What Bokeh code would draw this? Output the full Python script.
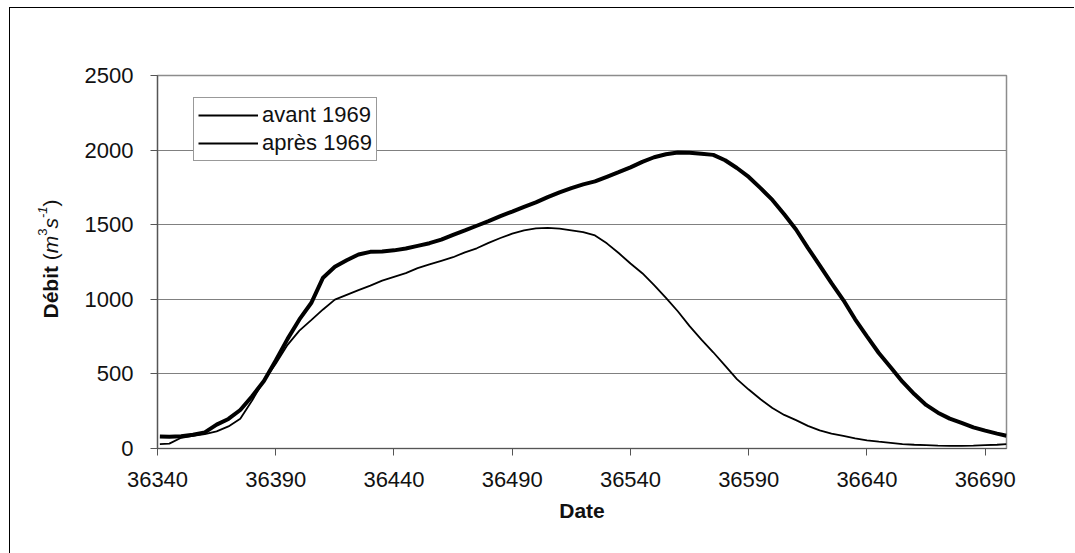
import math
from bokeh.plotting import figure
from bokeh.layouts import row
from bokeh.models import Range1d, Legend, LegendItem, FixedTicker
from bokeh.core.properties import value
from bokeh.embed import file_html
from bokeh.resources import INLINE

# ---- data ----
dates = [36341, 36345, 36350, 36355, 36360, 36365, 36370, 36375, 36380, 36385,
         36390, 36395, 36400, 36405, 36410, 36415, 36420, 36425, 36430, 36435,
         36440, 36445, 36450, 36455, 36460, 36465, 36470, 36475, 36480, 36485,
         36490, 36495, 36500, 36505, 36510, 36515, 36520, 36525, 36530, 36535,
         36540, 36545, 36550, 36555, 36560, 36565, 36570, 36575, 36580, 36585,
         36590, 36595, 36600, 36605, 36610, 36615, 36620, 36625, 36630, 36635,
         36640, 36645, 36650, 36655, 36660, 36665, 36670, 36675, 36680, 36685,
         36690, 36695, 36699]

avant_1969 = [80, 78, 82, 92, 108, 160, 198, 258, 350, 452,
              590, 735, 865, 975, 1145, 1218, 1262, 1300, 1318, 1320,
              1328, 1340, 1358, 1376, 1400, 1432, 1462, 1493, 1524, 1557,
              1588, 1620, 1650, 1685, 1717, 1745, 1770, 1790, 1821, 1852,
              1884, 1921, 1952, 1972, 1984, 1982, 1976, 1968, 1932, 1880,
              1820, 1745, 1666, 1570, 1468, 1345, 1228, 1108, 995, 866,
              752, 640, 545, 448, 365, 292, 240, 200, 172, 142,
              120, 100, 85]

apres_1969 = [30, 33, 72, 85, 96, 115, 148, 200, 322, 455,
              568, 695, 790, 860, 932, 998, 1030, 1062, 1092, 1125,
              1150, 1175, 1209, 1234, 1258, 1282, 1315, 1342, 1378, 1411,
              1440, 1462, 1475, 1479, 1474, 1462, 1450, 1428, 1375, 1310,
              1240, 1175, 1095, 1010, 920, 820, 730, 645, 555, 465,
              395, 330, 272, 225, 190, 152, 122, 100, 85, 68,
              55, 46, 38, 30, 25, 22, 19, 18, 18, 19,
              22, 25, 29]

x_ticks = [36340, 36390, 36440, 36490, 36540, 36590, 36640, 36690]
y_ticks = [0, 500, 1000, 1500, 2000, 2500]
series_names = ["avant 1969", "après 1969"]

# y-axis title pieces: Débit (m3s-1)
title_texts = ["Débit", "(", "m", "3", "s", "-1", ")"]

FONT = "Liberation Sans"
TXT = "#111111"
H = 545
FRAME_H = 373

# ---------- narrow panel holding the rich y-axis title ----------
LW = 65
pl = figure(width=LW, height=H, output_backend="svg", toolbar_location=None,
            x_axis_type=None, y_axis_type=None,
            x_range=Range1d(0, LW), y_range=Range1d(0, FRAME_H),
            min_border=0, min_border_left=0, min_border_right=0)
pl.grid.visible = False
pl.outline_line_color = None
pl.background_fill_color = "white"
pl.border_fill_color = "white"

styles = ["bold", "normal", "italic", "normal", "italic", "italic", "normal"]
sizes = ["21px", "21px", "21px", "13px", "21px", "13px", "21px"]
raise_px = [0, 0, 0, 8, 0, 8, 0]
adv = [58.3, 7.0, 17.5, 7.2, 10.5, 11.6, 7.0]
base_x = 39.5
ypos = 130.0
for t, st, sz, rp, a in zip(title_texts, styles, sizes, raise_px, adv):
    pl.text(x=[base_x - rp], y=[ypos], text=[t], angle=math.pi / 2,
            text_font=value(FONT), text_font_size=sz, text_font_style=st,
            text_color=TXT, text_align="left", text_baseline="alphabetic")
    ypos += a

# ---------- main chart ----------
p = figure(width=999, height=H, output_backend="svg", toolbar_location=None,
           x_range=Range1d(36340, 36699), y_range=Range1d(0, 2500),
           min_border_left=82, min_border_right=68, min_border_top=67,
           min_border_bottom=105)
p.background_fill_color = "white"
p.border_fill_color = "white"
p.outline_line_color = "#8c8c8c"
p.outline_line_width = 1.5

r1 = p.line(dates, avant_1969, line_color="black", line_width=4)
r2 = p.line(dates, apres_1969, line_color="black", line_width=1.8)

# legend proxies (the reference legend shows both entries with the same thin stroke)
l1 = p.line(dates[:1], avant_1969[:1], line_color="black", line_width=2)
l2 = p.line(dates[:1], apres_1969[:1], line_color="black", line_width=2)

p.xgrid.visible = False
p.ygrid.grid_line_color = "#808080"
p.ygrid.grid_line_width = 1.2

for ax in (p.xaxis[0], p.yaxis[0]):
    ax.axis_line_color = "#555555"
    ax.axis_line_width = 1.2
    ax.major_tick_line_color = "#555555"
    ax.major_tick_in = 0
    ax.major_tick_out = 7
    ax.minor_tick_line_color = None
    ax.major_label_text_font = FONT
    ax.major_label_text_font_size = "22px"
    ax.major_label_text_color = TXT

p.xaxis.ticker = FixedTicker(ticks=x_ticks)
p.yaxis.ticker = FixedTicker(ticks=y_ticks)
p.xaxis.major_label_standoff = 16
p.yaxis.major_label_standoff = 17

p.xaxis.axis_label = "Date"
p.xaxis.axis_label_text_font = FONT
p.xaxis.axis_label_text_font_size = "21px"
p.xaxis.axis_label_text_font_style = "bold"
p.xaxis.axis_label_text_color = TXT
p.xaxis.axis_label_standoff = 9

legend = Legend(items=[LegendItem(label=series_names[0], renderers=[l1]),
                       LegendItem(label=series_names[1], renderers=[l2])],
                location=(36, 287))
legend.label_text_font = FONT
legend.label_text_font_size = "22px"
legend.label_text_color = TXT
legend.glyph_width = 60
legend.glyph_height = 22
legend.label_height = 22
legend.label_standoff = 4
legend.padding = 4
legend.spacing = 2
legend.margin = 0
legend.border_line_color = "#333333"
legend.border_line_width = 1
legend.background_fill_color = "white"
legend.background_fill_alpha = 1
p.add_layout(legend, "center")

layout = row(pl, p, spacing=0, margin=(7, 0, 0, 9))
layout.styles = {"border-left": "1px solid black", "border-top": "1px solid black"}

open("out.html", "w").write(file_html(layout, INLINE))
